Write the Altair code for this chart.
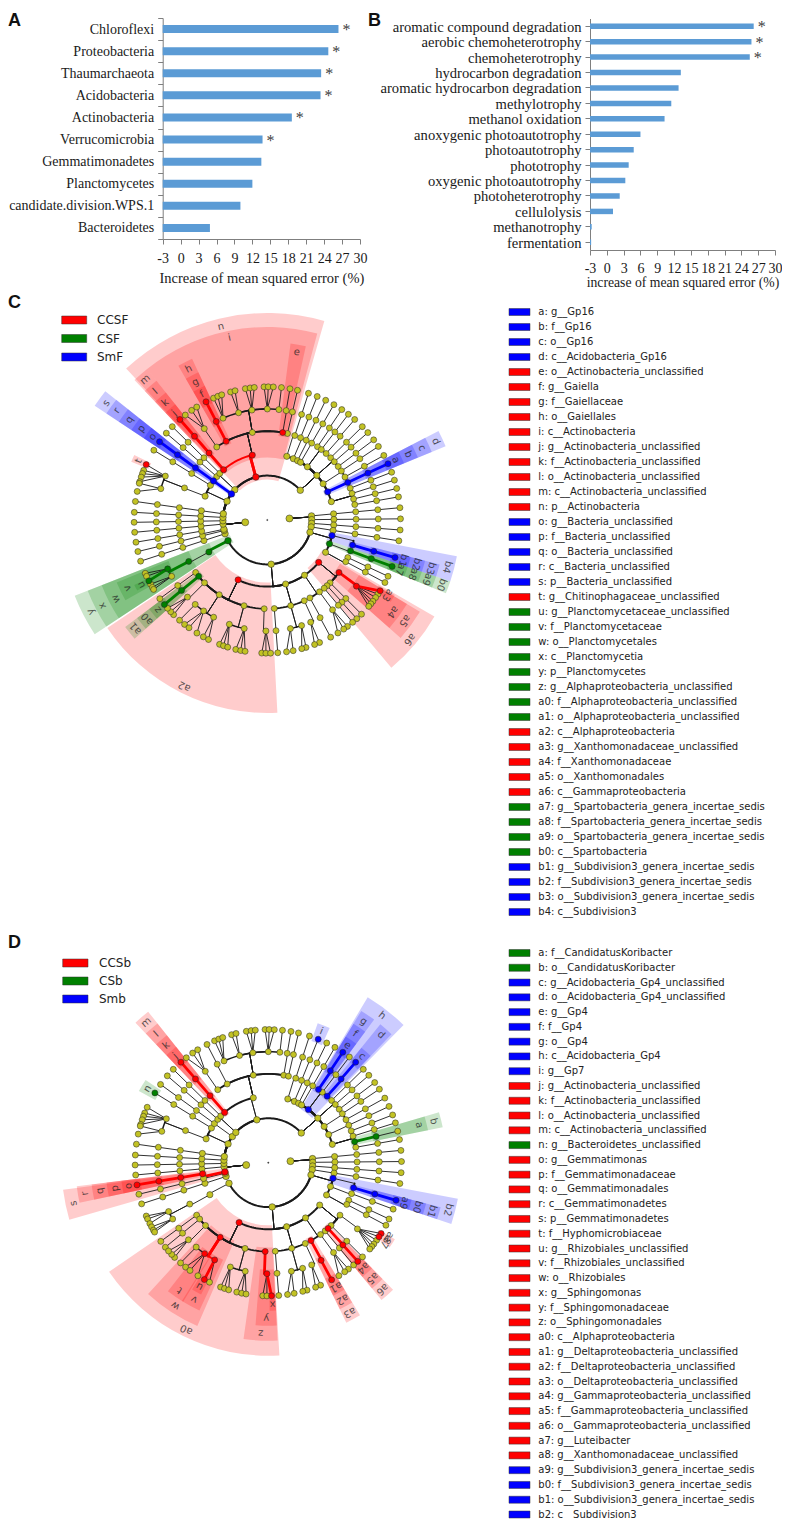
import math
import altair as alt
import pandas as pd

# ---------- panel A / B data ----------
A_NAMES = ["Chloroflexi", "Proteobacteria", "Thaumarchaeota", "Acidobacteria", "Actinobacteria",
           "Verrucomicrobia", "Gemmatimonadetes", "Planctomycetes", "candidate.division.WPS.1", "Bacteroidetes"]
A_VALUES = [26.4, 24.7, 23.5, 23.4, 18.6, 13.7, 13.5, 12.0, 10.0, 4.9]
A_STARS = [1, 1, 1, 1, 1, 1, 0, 0, 0, 0]

B_NAMES = ["aromatic compound degradation", "aerobic chemoheterotrophy", "chemoheterotrophy",
           "hydrocarbon degradation", "aromatic hydrocarbon degradation", "methylotrophy", "methanol oxidation",
           "anoxygenic photoautotrophy", "photoautotrophy", "phototrophy", "oxygenic photoautotrophy",
           "photoheterotrophy", "cellulolysis", "methanotrophy", "fermentation"]
B_VALUES = [26.2, 25.8, 25.5, 13.2, 12.8, 11.5, 10.3, 6.0, 4.8, 3.9, 3.3, 2.3, 1.1, -2.7, -2.8]
B_STARS = [1, 1, 1] + [0] * 12
TICKS = [-3, 0, 3, 6, 9, 12, 15, 18, 21, 24, 27, 30]

# ---------- legends ----------
C_LEGEND = ["a: g__Gp16", "b: f__Gp16", "c: o__Gp16", "d: c__Acidobacteria_Gp16", "e: o__Actinobacteria_unclassified",
            "f: g__Gaiella", "g: f__Gaiellaceae", "h: o__Gaiellales", "i: c__Actinobacteria",
            "j: g__Actinobacteria_unclassified", "k: f__Actinobacteria_unclassified", "l: o__Actinobacteria_unclassified",
            "m: c__Actinobacteria_unclassified", "n: p__Actinobacteria", "o: g__Bacteria_unclassified",
            "p: f__Bacteria_unclassified", "q: o__Bacteria_unclassified", "r: c__Bacteria_unclassified",
            "s: p__Bacteria_unclassified", "t: g__Chitinophagaceae_unclassified", "u: g__Planctomycetaceae_unclassified",
            "v: f__Planctomycetaceae", "w: o__Planctomycetales", "x: c__Planctomycetia", "y: p__Planctomycetes",
            "z: g__Alphaproteobacteria_unclassified", "a0: f__Alphaproteobacteria_unclassified",
            "a1: o__Alphaproteobacteria_unclassified", "a2: c__Alphaproteobacteria",
            "a3: g__Xanthomonadaceae_unclassified", "a4: f__Xanthomonadaceae", "a5: o__Xanthomonadales",
            "a6: c__Gammaproteobacteria", "a7: g__Spartobacteria_genera_incertae_sedis",
            "a8: f__Spartobacteria_genera_incertae_sedis", "a9: o__Spartobacteria_genera_incertae_sedis",
            "b0: c__Spartobacteria", "b1: g__Subdivision3_genera_incertae_sedis",
            "b2: f__Subdivision3_genera_incertae_sedis", "b3: o__Subdivision3_genera_incertae_sedis",
            "b4: c__Subdivision3"]
C_LEGEND_GROUPS = "BBBB" + "RRRRRRRRRR" + "BBBBB" + "R" + "GGGGG" + "GGG" + "RRRRR" + "GGGG" + "BBBB"

D_LEGEND = ["a: f__CandidatusKoribacter", "b: o__CandidatusKoribacter", "c: g__Acidobacteria_Gp4_unclassified",
            "d: o__Acidobacteria_Gp4_unclassified", "e: g__Gp4", "f: f__Gp4", "g: o__Gp4", "h: c__Acidobacteria_Gp4",
            "i: g__Gp7", "j: g__Actinobacteria_unclassified", "k: f__Actinobacteria_unclassified",
            "l: o__Actinobacteria_unclassified", "m: c__Actinobacteria_unclassified", "n: g__Bacteroidetes_unclassified",
            "o: g__Gemmatimonas", "p: f__Gemmatimonadaceae", "q: o__Gemmatimonadales", "r: c__Gemmatimonadetes",
            "s: p__Gemmatimonadetes", "t: f__Hyphomicrobiaceae", "u: g__Rhizobiales_unclassified",
            "v: f__Rhizobiales_unclassified", "w: o__Rhizobiales", "x: g__Sphingomonas", "y: f__Sphingomonadaceae",
            "z: o__Sphingomonadales", "a0: c__Alphaproteobacteria", "a1: g__Deltaproteobacteria_unclassified",
            "a2: f__Deltaproteobacteria_unclassified", "a3: o__Deltaproteobacteria_unclassified",
            "a4: g__Gammaproteobacteria_unclassified", "a5: f__Gammaproteobacteria_unclassified",
            "a6: o__Gammaproteobacteria_unclassified", "a7: g__Luteibacter", "a8: g__Xanthomonadaceae_unclassified",
            "a9: g__Subdivision3_genera_incertae_sedis", "b0: f__Subdivision3_genera_incertae_sedis",
            "b1: o__Subdivision3_genera_incertae_sedis", "b2: c__Subdivision3"]
D_LEGEND_GROUPS = "GG" + "BBBBBBB" + "RRRR" + "G" + "R" * 21 + "BBBB"

COLORS = {"R": "#FF0000", "G": "#008000", "B": "#0000FF"}
C_GROUPS = [("CCSF", "R"), ("CSF", "G"), ("SmF", "B")]
D_GROUPS = [("CCSb", "R"), ("CSb", "G"), ("Smb", "B")]

# ---------- taxonomic tree: angles (deg, clockwise from east) ----------
# a number is a lineage running out to the genus ring at that angle; a list is [angle, *children]
TREE = [
    [-4, -5.3, -0.5, 4.3, 9,
     [16, [13.5, 16.4], [21, 20.4], [29, 25, 28]],
     [85,
      [39.5, [36.2, [36.6, 32.1, 33.8, 35.6, 37.6, 39, 40.4]], 45, [47.7, 47.8], 50.2],
      [56, [54, [54, 53, 55, 58]], [61.3, 61.6]],
      [74, [65.4, [67, 66.9, 69.2]], [74.7, [72, 73.1, 75], [78, 78.8, 81.7]], 85.5],
      [116, 143.8, 140.6, [135, [136, 134.7, 136.5, 138.5]],
       [122.8, [130.5, 131.2], [125, 128.4, 126, 121.9], [118.9, 118.7, 116.2]],
       [105.2, [110, 111, 109.2, 107.3], [102, 103.7, 101.5, 99.6]],
       [92, [90.7, 92.4, 90.6, 88.6]]]],
     [152.3, [151.3, [152.2, [153.9, 156.4, 155, 152.8], [149.5, 151.2, 149.6, 148.6]]]]],
    [174, 162, 166.3, [168, 170.4], 174.7, 179, 183.3, 188,
     [205, [211.4, 211.6], [201, [201.2, [203.3, 204.6, 201.9, 200.4, 198.8, 196.7], [196.4, 196, 192.4]]]],
     216,
     [223, 220.7, 224.5],
     [255, 229,
      [257, [235.3, [235.4, 232, 235.4, 238]], [242.4, 242.6],
       [260.3, [246.5, 246.2, 248.2, 250], [255, 254, 256], [262, 260.5, 262.6, 264.4],
        [270, 268.6, 270.4, 272.6], [276, 276.1]],
       [280, 279.8], 283.1]],
     [318, [287, 288], [293, 292], [297, 296], [300, 300],
      [307, [304.4, 304], 307.5, [311.5, 311]],
      [318, 315.5, 319, 323, 326.5], [327, 331], [335, 335],
      [344, 339, 342.6, 346.3, 350]]],
]

# highlighted nodes: (ring, angle) -> group
C_NODES = {"B": [(2, 335), (3, 335), (4, 335), (5, 335), (2, 13.5), (3, 16.4), (4, 16.4), (5, 16.4),
                 (1, 216), (2, 216), (3, 216), (4, 216), (5, 216)],
           "R": [(1, 255), (2, 229), (3, 229), (4, 229), (5, 229), (2, 257), (3, 242.4), (4, 242.6), (5, 242.6),
                 (3, 280), (5, 204.6), (2, 116), (2, 39.5), (3, 36.2), (4, 36.6), (5, 32.1)],
           "G": [(2, 21), (3, 20.4), (4, 20.4), (5, 20.4), (1, 152.3), (2, 151.3), (3, 152.2), (4, 153.9), (5, 152.8),
                 (3, 140.6), (4, 140.6), (5, 140.6)]}
D_NODES = {"B": [(5, 292), (2, 307), (3, 304.4), (4, 304), (5, 304), (3, 311.5), (4, 311), (5, 311),
                 (2, 13.5), (3, 16.4), (4, 16.4), (5, 16.4)],
           "R": [(2, 229), (3, 229), (4, 229), (5, 229), (1, 168), (2, 170.4), (3, 170.4), (4, 170.4), (5, 170.4),
                 (2, 116), (3, 122.8), (4, 125), (4, 118.9), (5, 118.7), (3, 92), (4, 90.7), (5, 88.6),
                 (3, 61.3), (4, 61.6), (5, 61.6), (3, 47.7), (4, 47.8), (5, 47.8), (5, 32.1), (5, 33.8)],
           "G": [(5, 211.6), (3, 346.3), (4, 346.3)]}

# shaded clades: label, ring, start angle, end angle
C_WEDGES = [("n", 1, 227, 286), ("s", 1, 213.5, 218.5), ("y", 1, 146.5, 158.5),
            ("i", 2, 231.5, 285), ("m", 2, 226.5, 231.5), ("r", 2, 213.5, 218.5), ("x", 2, 146.5, 158.5),
            ("a2", 2, 87, 146), ("a6", 2, 30, 50), ("b0", 2, 18.5, 22.3), ("b4", 2, 10.8, 18.5), ("d", 2, 332.5, 337.5),
            ("e", 3, 277.5, 282.5), ("h", 3, 240, 245), ("l", 3, 226.5, 231.5), ("q", 3, 213.5, 218.5),
            ("w", 3, 146.5, 158.5), ("a1", 3, 138.2, 143), ("a5", 3, 31, 41.5), ("a9", 3, 18.5, 22.3),
            ("b3", 3, 14.5, 18.5), ("c", 3, 332.5, 337.5),
            ("g", 4, 240, 245), ("k", 4, 226.5, 231.5), ("p", 4, 213.5, 218.5), ("v", 4, 150.5, 157.5),
            ("a0", 4, 138.2, 143), ("a4", 4, 31, 41.5), ("a8", 4, 18.5, 22.3), ("b2", 4, 14.5, 18.5), ("b", 4, 332.5, 337.5),
            ("f", 5, 240, 245), ("j", 5, 226.5, 231.5), ("o", 5, 213.5, 218.5), ("t", 5, 203.2, 206),
            ("u", 5, 151.5, 154), ("z", 5, 138.2, 143), ("a3", 5, 30.5, 33.5), ("a7", 5, 18.5, 22.3),
            ("b1", 5, 14.5, 18.5), ("a", 5, 332.5, 337.5)]
D_WEDGES = [("s", 1, 164, 172.5),
            ("h", 2, 301, 314.5), ("m", 2, 226.5, 231.5), ("r", 2, 168, 173), ("a0", 2, 86.7, 145.6), ("b2", 2, 10.8, 18.5),
            ("b", 3, 343.5, 348.5), ("d", 3, 309, 313.8), ("g", 3, 301.5, 306.5), ("l", 3, 226.5, 231.5), ("q", 3, 168, 173),
            ("w", 3, 113.5, 132.5), ("z", 3, 87, 98), ("a3", 3, 59, 64), ("a6", 3, 45.5, 50.5), ("b1", 3, 14.5, 18.5),
            ("a", 4, 343.5, 348.5), ("f", 4, 301.5, 306.5), ("k", 4, 226.5, 231.5), ("p", 4, 168, 173),
            ("t", 4, 121.5, 128), ("v", 4, 115, 122), ("y", 4, 87, 94.5), ("a2", 4, 59, 64), ("a5", 4, 45.5, 50.5),
            ("b0", 4, 14.5, 18.5),
            ("c", 5, 309, 313.8), ("e", 5, 301.5, 306.5), ("i", 5, 289.5, 294.5), ("j", 5, 226.5, 231.5), ("n", 5, 209, 214),
            ("o", 5, 168, 173), ("u", 5, 117, 121), ("x", 5, 87, 89.5), ("a1", 5, 59, 64), ("a4", 5, 45.5, 50.5),
            ("a7", 5, 33, 35), ("a8", 5, 31.2, 33), ("a9", 5, 14.5, 18.5)]

RING = 22.2
OUTER = {1: 207, 2: 193, 3: 178, 4: 163, 5: 148}
LABEL_R = {1: 199, 2: 186, 3: 170.5, 4: 155.5, 5: 141.7}
NODE_D = {0: 7, 1: 6.5, 2: 6.2, 3: 6, 4: 6, 5: 6}
ARC_W = {1: 2.0, 2: 2.0, 3: 1.8, 4: 1.5}
YELLOW = "#C2C224"
W, H = 774, 1512


def xy(r, a):
    return r * math.cos(math.radians(a)), r * math.sin(math.radians(a))


def tree_frames(highlight):
    hl = {k: COLORS[g] for g, lst in highlight.items() for k in lst}
    nodes = [{"x": 0, "y": 0, "c": "#333333", "s": 1.5, "k": 0}]
    plain, coloured = [], []
    counter = [0]

    def line(pts, color, w):
        counter[0] += 1
        target = coloured if color else plain
        for i, (r, a) in enumerate(pts):
            x, y = xy(r, a)
            target.append({"id": counter[0], "seq": i, "x": x, "y": y, "c": color or "#1a1a1a", "w": w})

    def visit(node, level, parent):
        if isinstance(node, list):
            a, kids = node[0], node[1:]
        else:
            a, kids = node, ([node] if level < 5 else [])
        color = hl.get((level, a))
        x, y = xy((level + 1) * RING, a)
        nodes.append({"x": x, "y": y, "c": color or YELLOW, "s": NODE_D[level] ** 2, "k": 1 if color else 0})
        if parent is not None:
            pa = parent
            edge = color if hl.get((level - 1, pa)) else None
            if level == 3 and abs(a - pa) > 0.01:
                edge = None
            r0, r1 = level * RING, (level + 1) * RING
            if level == 5:
                line([(r0, pa), (r1, a)], edge, 2.8 if edge else 0.9)
            else:
                line([(r0, pa), (r1, pa)], edge, 2.8 if edge else 0.9)
                if abs(a - pa) > 0.01:
                    n = max(2, int(abs(a - pa) / 2) + 1)
                    line([(r1, pa + (a - pa) * i / n) for i in range(n + 1)], edge, 2.0 if edge else ARC_W[level])
        for kid in kids:
            visit(kid, level + 1, a)

    for k in TREE:
        visit(k, 0, None)
    ndf = pd.DataFrame(nodes).sort_values("k", kind="stable")
    ldf = pd.DataFrame(plain + coloured)
    return ndf, ldf


def wedge_frame(wedges, legend, groups):
    color = {s.split(":")[0]: COLORS[g] for s, g in zip(legend, groups)}
    rows = []
    for lab, lev, a0, a1 in wedges:
        mid = (a0 + a1) / 2
        x, y = xy(LABEL_R[lev], mid)
        rows.append({"lab": lab, "t1": a0 + 90, "t2": a1 + 90, "r1": (lev + 1) * RING - 4, "r2": OUTER[lev],
                     "c": color[lab], "lx": x, "ly": y, "rot": (mid + 90) % 360})
    return pd.DataFrame(rows)


def cladogram(highlight, wedges, legend, groups, cx, cy):
    ndf, ldf = tree_frames(highlight)
    wdf = wedge_frame(wedges, legend, groups)
    sx = alt.Scale(domain=[-cx, W - cx], range=[0, W], nice=False, zero=False)
    sy = alt.Scale(domain=[-cy, H - cy], range=[0, H], nice=False, zero=False)
    th = alt.Scale(domain=[0, 360], range=[0, 2 * math.pi])
    ra = alt.Scale(type="linear", domain=[0, 300], range=[0, 300])
    arcs = alt.Chart(wdf).mark_arc(opacity=0.2).encode(
        x=alt.value(cx), y=alt.value(cy),
        theta=alt.Theta("t1:Q", scale=th), theta2="t2:Q",
        radius=alt.Radius("r1:Q", scale=ra), radius2="r2:Q",
        color=alt.Color("c:N", scale=None))
    lines = alt.Chart(ldf).mark_line(strokeCap="round", strokeJoin="round").encode(
        x=alt.X("x:Q", scale=sx, axis=None), y=alt.Y("y:Q", scale=sy, axis=None),
        detail="id:N", order="seq:Q",
        color=alt.Color("c:N", scale=None), strokeWidth=alt.StrokeWidth("w:Q", scale=None))
    pts = alt.Chart(ndf).mark_circle(opacity=1, stroke="#222222", strokeWidth=0.5).encode(
        x=alt.X("x:Q", scale=sx, axis=None), y=alt.Y("y:Q", scale=sy, axis=None),
        color=alt.Color("c:N", scale=None), size=alt.Size("s:Q", scale=None))
    labs = alt.Chart(wdf).mark_text(font="DejaVu Sans", fontSize=10, color="#222222", opacity=0.75,
                                    baseline="middle", align="center").encode(
        x=alt.X("lx:Q", scale=sx, axis=None), y=alt.Y("ly:Q", scale=sy, axis=None),
        text="lab:N", angle=alt.Angle("rot:Q", scale=None))
    return alt.layer(arcs, lines, pts, labs)


def bar_panel(names, values, stars, xr, yr, title, title_size, barh, label_size, label_offset, title_pad, tick_pad, star_dy, band):
    df = pd.DataFrame({"name": names, "v": values, "star": stars})
    base = alt.Chart(df).encode(
        x=alt.X("v:Q", scale=alt.Scale(domain=[-3, 30], range=xr, nice=False, zero=False),
                axis=alt.Axis(orient="bottom", offset=yr[1] - H, values=TICKS, title=title, grid=False,
                              labelFont="Liberation Serif", labelFontSize=14, labelColor="#1a1a1a",
                              titleFont="Liberation Serif", titleFontSize=title_size, titleFontWeight="normal",
                              titleColor="#1a1a1a", titlePadding=title_pad, labelPadding=tick_pad, labelFlush=False,
                              labelOverlap=False, domainColor="#7f7f7f", tickColor="#7f7f7f", tickSize=5,
                              labelAngle=0, labelExpr="'' + datum.value")),
        y=alt.Y("name:N", sort=names,
                scale=alt.Scale(domain=names, range=yr, paddingInner=0, paddingOuter=0),
                axis=alt.Axis(orient="left", offset=-xr[0], title=None, grid=False, tickBand=band,
                              labelFont="Liberation Serif", labelFontSize=label_size, labelColor="#1a1a1a",
                              labelLimit=300, labelPadding=4, labelOffset=label_offset, labelOverlap=False,
                              domainColor="#7f7f7f", tickColor="#7f7f7f", tickSize=5)))
    bars = base.mark_bar(height=barh, color="#5B9BD5").encode(x2=alt.datum(-3))
    st = base.transform_filter("datum.star == 1").mark_text(
        text="*", font="Liberation Serif", fontSize=16, color="#404040", dx=8, dy=star_dy, baseline="middle")
    return alt.layer(bars, st)


def row_legend(items, groups, y0, y1, x_swatch, x_swatch2, x_text, swatch_h, font):
    df = pd.DataFrame({"name": items, "c": [COLORS[g] for g in groups]})
    sy = alt.Scale(type="point", domain=items, range=[y0, y1], padding=0)
    sw = alt.Chart(df).mark_bar(height=swatch_h, stroke="#333333", strokeWidth=0.5).encode(
        x=alt.value(x_swatch), x2=alt.value(x_swatch2),
        y=alt.Y("name:N", sort=items, scale=sy, axis=None), color=alt.Color("c:N", scale=None))
    tx = alt.Chart(df).mark_text(font="DejaVu Sans", fontSize=font, align="left", baseline="middle",
                                 color="#222222").encode(
        x=alt.value(x_text), y=alt.Y("name:N", sort=items, scale=sy, axis=None), text="name:N")
    return alt.layer(sw, tx)


def letter(t, x, y):
    return alt.Chart(pd.DataFrame({"t": [t]})).mark_text(
        font="Liberation Sans", fontWeight="bold", fontSize=18, align="left", baseline="alphabetic",
        color="#111111").encode(x=alt.value(x), y=alt.value(y), text="t:N")


panel_a = bar_panel(A_NAMES, A_VALUES, A_STARS, [154.7, 352], [10, 231], "Increase of mean squared error (%)", 14.5,
                    8, 14, 0, 6, 7, 1, "extent")
panel_b = bar_panel(B_NAMES, B_VALUES, B_STARS, [582, 767], [10.5, 242], "increase of mean squared error (%)", 13.7,
                    5.5, 14.6, 1.5, 0, 6, 1, "center")

clad_c = cladogram(C_NODES, C_WEDGES, C_LEGEND, C_LEGEND_GROUPS, 259.3, 512)
clad_d = cladogram(D_NODES, D_WEDGES, D_LEGEND, D_LEGEND_GROUPS, 260.3, 1154.7)

leg_c = row_legend(C_LEGEND, C_LEGEND_GROUPS, 304, 904, 501, 522, 530.3, 7, 10)
leg_d = row_legend(D_LEGEND, D_LEGEND_GROUPS, 945, 1506.5, 501, 522, 530.3, 7, 10)
grp_c = row_legend([g[0] for g in C_GROUPS], [g[1] for g in C_GROUPS], 312, 349, 53.7, 78.7, 89, 8, 12)
grp_d = row_legend([g[0] for g in D_GROUPS], [g[1] for g in D_GROUPS], 955, 991, 54.7, 80, 91, 8, 12)

chart = alt.layer(
    clad_c, clad_d, panel_a, panel_b, leg_c, leg_d, grp_c, grp_d,
    letter("A", 0, 18), letter("B", 360, 18), letter("C", 0, 300), letter("D", 0, 940)
).resolve_scale(x="independent", y="independent").properties(
    width=W, height=H, padding=0, autosize=alt.AutoSizeParams(type="none")
).configure_view(stroke=None)

chart.save("out.html", embed_options={"renderer": "svg", "actions": False})
